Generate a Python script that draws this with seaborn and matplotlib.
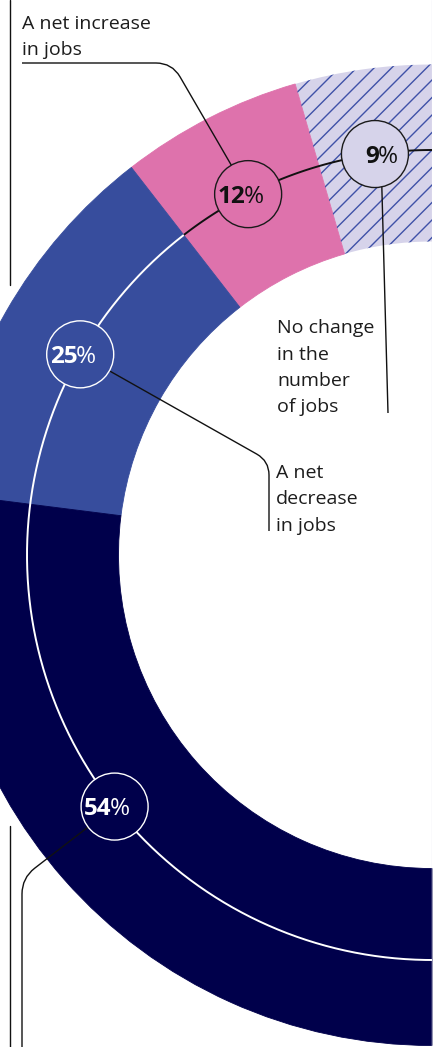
import numpy as np
import matplotlib
matplotlib.use("Agg")
import matplotlib.pyplot as plt
import seaborn as sns
from matplotlib.path import Path
from matplotlib.patches import PathPatch, Circle
from matplotlib.collections import LineCollection

# ---------------- data ----------------
categories = ["No change in the number of jobs", "A net increase in jobs",
              "A net decrease in jobs", "Other"]
values = [9, 12, 25, 54]
pct_numbers = ["9", "12", "25", "54"]
label_lines = {
    "A net increase in jobs": ["A net increase", "in jobs"],
    "No change in the number of jobs": ["No change", "in the", "number", "of jobs"],
    "A net decrease in jobs": ["A net", "decrease", "in jobs"],
}

# ---------------- style ----------------
sns.set_theme(style="white")
plt.rcParams["font.family"] = ["Open Sans", "DejaVu Sans"]

seg_colors = ["#d6d3ea", "#de72ac", "#374d9d", "#00004b"]
hatch_color = "#3f51a8"
edge_colors = ["#1a1a1a", "#1a1a1a", "white", "white"]
num_colors = ["#111111", "#111111", "white", "white"]
text_color = "#1c1c1c"

H = 1047
fig = plt.figure(figsize=(4.47, 10.47), dpi=100)
ax = fig.add_axes([0, 0, 432 / 447, 1])


def Y(y):
    return H - y


cx, cy = 432, 555
R_out, R_in, R_mid = 490.5, 313.5, 405
center = (cx, Y(cy))

total = sum(values)
wedges, _ = ax.pie(values + [total], colors=seg_colors + ["none"],
                   startangle=90, counterclock=True, radius=R_out,
                   center=center, frame=True,
                   wedgeprops=dict(width=R_out - R_in, linewidth=0.6))
for w, c in zip(wedges[:4], seg_colors):
    w.set_edgecolor(c)
wedges[0].set_linewidth(0)
wedges[-1].set_visible(False)

# diagonal hatching of the "no change" segment
spacing = 17.5
offs = np.arange(-1200, 600, spacing)
segs = [[(x0, x0 - c) for x0 in (150, 480)] for c in offs]
hatch = LineCollection(segs, colors=hatch_color, linewidths=1.0, zorder=2)
ax.add_collection(hatch)
hatch.set_clip_path(wedges[0])

ax.set_xlim(0, 432)
ax.set_ylim(0, H)
ax.set_aspect("equal")
ax.axis("off")

cum = np.concatenate([[0], np.cumsum(values)])
starts = 90 + 180 * cum[:-1] / total
ends = 90 + 180 * cum[1:] / total
label_shift = [0, 0, 0, -3]
mids = (starts + ends) / 2 + np.array(label_shift)

# mid line: black across the light segments, white across the dark ones
th_b = np.radians(np.linspace(90, ends[1], 120))
th_w = np.radians(np.linspace(ends[1], 270, 300))
ax.plot(cx + R_mid * np.cos(th_b), Y(cy) + R_mid * np.sin(th_b),
        color="#111111", lw=1.4, zorder=3, solid_capstyle="butt")
ax.plot(cx + R_mid * np.cos(th_w), Y(cy) + R_mid * np.sin(th_w),
        color="white", lw=1.4, zorder=3, solid_capstyle="butt")

centers = []
for m in mids:
    t = np.radians(m)
    centers.append((cx + R_mid * np.cos(t), Y(cy) + R_mid * np.sin(t)))


def rounded(pts, r):
    pts = [np.array(p, float) for p in pts]
    verts = [pts[0]]
    codes = [Path.MOVETO]
    for i in range(1, len(pts) - 1):
        p0, p1, p2 = pts[i - 1], pts[i], pts[i + 1]
        d1 = (p1 - p0) / np.linalg.norm(p1 - p0)
        d2 = (p2 - p1) / np.linalg.norm(p2 - p1)
        verts += [p1 - d1 * r, p1, p1 + d2 * r]
        codes += [Path.LINETO, Path.CURVE3, Path.CURVE3]
    verts.append(pts[-1])
    codes.append(Path.LINETO)
    return Path(verts, codes)


def add_leader(pts, r=15, color="#111111"):
    p = rounded(pts, r)
    ax.add_patch(PathPatch(p, fill=False, edgecolor=color, lw=1.0, zorder=4))


c9, c12, c25, c54 = centers
add_leader([(22, Y(63)), (172, Y(63)), c12], r=16)
add_leader([(c9[0] + 6, c9[1]), (388, Y(413))], r=0)
add_leader([c25, (269, Y(461)), (269, Y(531))], r=14)
add_leader([c54, (22, Y(878)), (22, Y(1050))], r=16)
# left rules
ax.plot([9.5, 9.5], [Y(0), Y(285)], color="#111111", lw=1.0, zorder=4)
ax.plot([9.5, 9.5], [Y(826), Y(1050)], color="#111111", lw=1.0, zorder=4)
ax.plot([431.5, 431.5], [Y(0), Y(H)], color="#e6e6f0", lw=1.0, zorder=1)

# label circles
circ_r = 33.5
for (x, y), fc, ec in zip(centers, seg_colors, edge_colors):
    ax.add_patch(Circle((x, y), circ_r, facecolor=fc, edgecolor=ec,
                        lw=1.0, zorder=5))

num_texts = []
for (x, y), num, col in zip(centers, pct_numbers, num_colors):
    tn = ax.text(x, y - 8.8, num, ha="right", va="baseline", fontsize=17.5,
                 fontweight="bold", color=col, zorder=6)
    tp = ax.text(x, y - 8.8, "%", ha="left", va="baseline", fontsize=17.5,
                 fontweight="normal", color=col, zorder=6)
    num_texts.append((tn, tp, x))

fig.canvas.draw()
r = fig.canvas.get_renderer()
for tn, tp, x in num_texts:
    wn = tn.get_window_extent(r).width
    wp = tp.get_window_extent(r).width
    gap = -1.5
    split = x + (wp - wn) / 2
    tn.set_x(split - gap / 2)
    tp.set_x(split + gap / 2)

# category labels
label_pos = {
    "A net increase in jobs": (22, [29, 55]),
    "No change in the number of jobs": (277, [333, 359.5, 386, 412.5]),
    "A net decrease in jobs": (276, [478, 504.5, 531]),
}
for cat, lines in label_lines.items():
    x, bases = label_pos[cat]
    for line, b in zip(lines, bases):
        ax.text(x, Y(b), line, ha="left", va="baseline", fontsize=14,
                color=text_color, zorder=6)

fig.savefig("out.png", dpi=100, facecolor="white")
